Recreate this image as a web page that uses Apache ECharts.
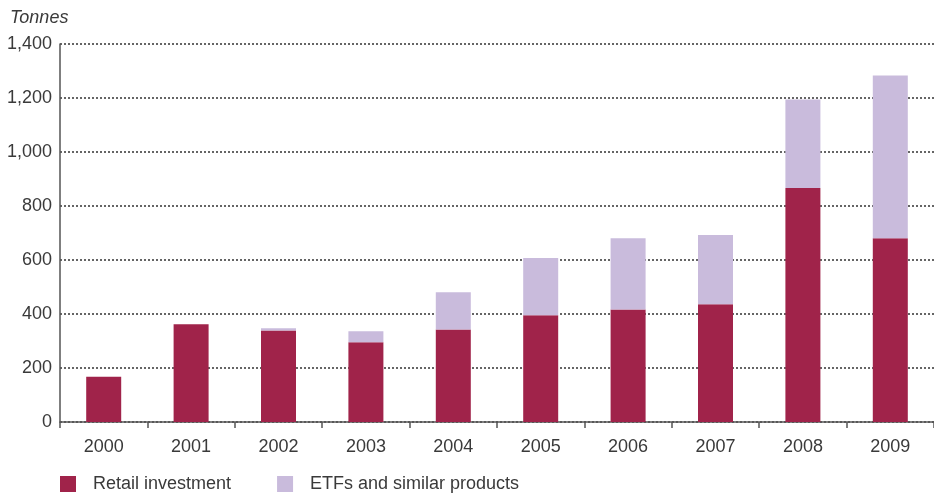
<!DOCTYPE html>
<html>
<head>
<meta charset="UTF-8" />
<title>Gold investment demand</title>
<script src="https://cdn.jsdelivr.net/npm/echarts@6/dist/echarts.min.js"></script>
<style>
html, body { margin: 0; padding: 0; background: #fff; }
</style>
</head>
<body>
<div id="chart" style="width: 934px; height: 493px;"></div>
<script>
// data (tonnes)
var years = ["2000", "2001", "2002", "2003", "2004", "2005", "2006", "2007", "2008", "2009"];
var retail = [168, 362, 339, 295, 343, 395, 417, 436, 867, 681];
var etfs = [0, 0, 8, 41, 138, 212, 264, 257, 327, 602];
var yTicks = [0, 200, 400, 600, 800, 1000, 1200, 1400];

var textColor = "#3a3a3a";
var font = "Liberation Sans";

var myChart = echarts.init(document.getElementById("chart"));

var option = {
  animation: false,
  grid: { left: 60, right: 0, top: 44, bottom: 71, containLabel: false },
  legend: {
    left: 55,
    top: 470,
    itemWidth: 16,
    itemHeight: 16,
    itemGap: 46,
    icon: "rect",
    textStyle: { fontFamily: font, fontSize: 18, color: textColor, padding: [0, 0, 0, 12] },
    data: ["Retail investment", "ETFs and similar products"]
  },
  xAxis: {
    type: "category",
    data: years,
    axisLine: { lineStyle: { color: "#555", width: 1.5 } },
    axisTick: { show: true, length: 6, lineStyle: { color: "#555", width: 1.5 } },
    axisLabel: { fontFamily: font, fontSize: 18, color: textColor, margin: 16 }
  },
  yAxis: {
    type: "value",
    min: yTicks[0],
    max: yTicks[yTicks.length - 1],
    interval: 200,
    name: "Tonnes",
    nameLocation: "end",
    nameGap: 17,
    nameTextStyle: { fontFamily: font, fontSize: 18, fontStyle: "italic", color: textColor, align: "left", padding: [0, 0, 0, -50] },
    axisLine: { show: true, lineStyle: { color: "#555", width: 1.5 } },
    axisTick: { show: false },
    axisLabel: {
      fontFamily: font, fontSize: 18, color: textColor, margin: 8,
      formatter: function (v) { return v.toLocaleString("en-US"); }
    },
    splitLine: { lineStyle: { color: "#333", type: [2, 2], width: 1.5 } }
  },
  series: [
    {
      name: "Retail investment",
      type: "bar",
      stack: "total",
      barWidth: 35,
      itemStyle: { color: "#A0234A" },
      data: retail
    },
    {
      name: "ETFs and similar products",
      type: "bar",
      stack: "total",
      barWidth: 35,
      itemStyle: { color: "#C9BBDC" },
      data: etfs
    }
  ]
};

myChart.setOption(option);
</script>
</body>
</html>
